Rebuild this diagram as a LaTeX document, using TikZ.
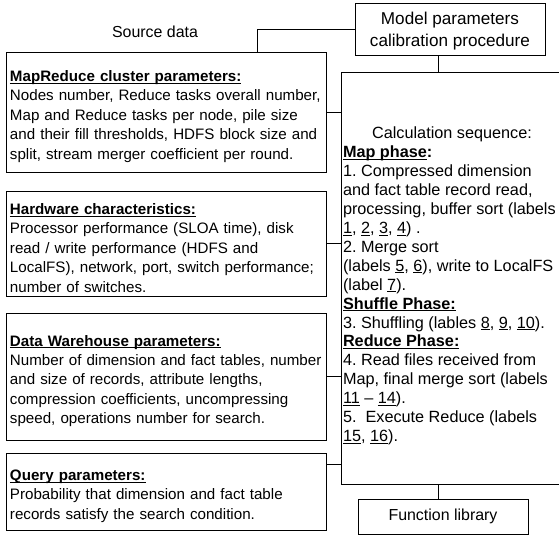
\documentclass[tikz,border=0pt]{standalone}
\usepackage{fontspec}
\setmainfont{Liberation Sans}
\frenchspacing
\newcommand{\uln}[1]{\leavevmode\setbox0=\hbox{#1}\rlap{\rule[-2.2bp]{\wd0}{1bp}}\box0\relax}
\newcommand{\boxhead}[1]{\rule{0pt}{20bp}\textbf{\uln{#1}}}
\begin{document}
\begin{tikzpicture}[x=1bp,y=-1bp,line width=0.9bp,
    leftbox/.style={draw,align=left,text width=312bp,inner xsep=4bp,inner ysep=0pt,
      font=\fontsize{15.2}{19.5}\selectfont},
    plainbox/.style={draw,align=center,font=\fontsize{16}{20}\selectfont}]
  \useasboundingbox (0,0) rectangle (559,536);
  \clip (0,0) rectangle (559,536);

  % Top: source data title and calibration procedure
  \node[font=\fontsize{16}{20}\selectfont] (src) at (155,32) {Source data};
  \node[plainbox,font=\fontsize{17.2}{22}\selectfont,minimum width=190bp,minimum height=52bp]
    (model) at (450,29) {\rule{0pt}{17bp}Model parameters\\calibration procedure};

  % Left column: the four groups of source data
  \node[leftbox,minimum height=120bp] (cluster) at (166,112) {%
    \boxhead{MapReduce cluster parameters:}\\
    Nodes number, Reduce tasks overall number,\\
    Map and Reduce tasks per node, pile size\\
    and their fill thresholds, HDFS block size and\\
    split, stream merger coefficient per round.};
  \node[leftbox,minimum height=105bp] (hw) at (166,243.5) {%
    \boxhead{Hardware characteristics:}\\
    Processor performance (SLOA time), disk\\
    read / write performance (HDFS and\\
    LocalFS), network, port, switch performance;\\
    number of switches.};
  \node[leftbox,minimum height=127bp] (dw) at (166,376.5) {%
    \boxhead{Data Warehouse parameters:}\\
    Number of dimension and fact tables, number\\
    and size of records, attribute lengths,\\
    compression coefficients, uncompressing\\
    speed, operations number for search.};
  \node[leftbox,minimum height=77bp] (query) at (166,491.5) {%
    \boxhead{Query parameters:}\\
    Probability that dimension and fact table\\
    records satisfy the search condition.\\[8bp]};

  % Right column: calculation sequence and function library
  \node[draw,minimum width=226bp,minimum height=412bp] (calc) at (454,278) {};
  \node[anchor=north west,align=left,inner sep=0pt,
    font=\fontsize{16.3}{19}\selectfont] (seq) at ([xshift=2bp,yshift=-55bp]calc.north west) {%
    \makebox[218bp]{Calculation sequence:}\\
    \textbf{\uln{Map phase}:}\\
    1. Compressed dimension\\
    and fact table record read,\\
    processing, buffer sort (labels\\
    \uln{1}, \uln{2}, \uln{3}, \uln{4}) .\\
    2. Merge sort\\
    (labels \uln{5}, \uln{6}), write to LocalFS\\
    (label \uln{7}).\\
    \textbf{\uln{Shuffle Phase:}}\\
    3. Shuffling (lables \uln{8}, \uln{9}, \uln{10}).\\
    \textbf{\uln{Reduce Phase:}}\\
    4. Read files received from\\
    Map, final merge sort (labels\\
    \uln{11} -- \uln{14}).\\
    5.~ Execute Reduce (labels\\
    \uln{15}, \uln{16}).};
  \node[plainbox,minimum width=170bp,minimum height=35bp] (lib) at (443,516.5) {Function library};

  % Connectors
  \coordinate (tap) at (257,31);
  \coordinate (spine) at (438,0);
  \coordinate (qtap) at ([yshift=-12bp]query.north east);
  \draw (cluster.north -| tap) |- (model.west);
  \draw (model.south -| spine) -- (calc.north -| spine);
  \draw (calc.south -| spine) -- (lib.north -| spine);
  \draw (cluster.east) -- (cluster.east -| calc.west);
  \draw (hw.east) -- (hw.east -| calc.west);
  \draw (dw.east) -- (dw.east -| calc.west);
  \draw (qtap) -- (qtap -| calc.west);
\end{tikzpicture}
\end{document}
